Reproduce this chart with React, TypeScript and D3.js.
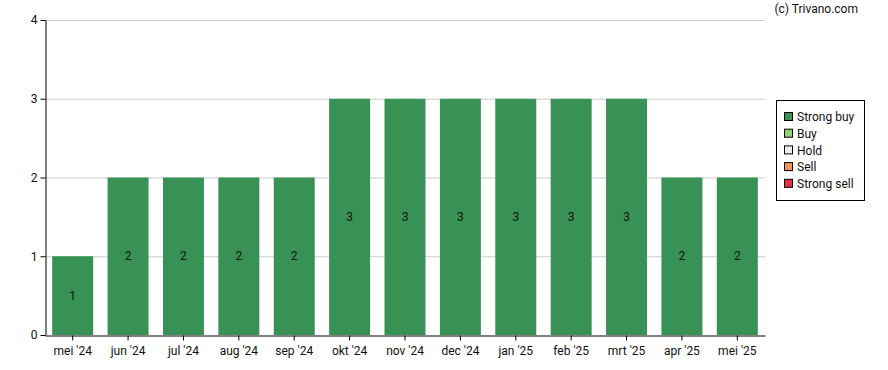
import React, { useEffect, useRef } from 'react'
import * as d3 from 'd3'

const months = ["mei '24", "jun '24", "jul '24", "aug '24", "sep '24", "okt '24", "nov '24", "dec '24", "jan '25", "feb '25", "mrt '25", "apr '25", "mei '25"]
const strongBuy = [1, 2, 2, 2, 2, 3, 3, 3, 3, 3, 3, 2, 2]
const yTicks = [0, 1, 2, 3, 4]
const legendLabels = ['Strong buy', 'Buy', 'Hold', 'Sell', 'Strong sell']
const legendColors = ['#389155', '#93d46f', '#eeeeee', '#f79452', '#e8313f']

function App() {
  const ref = useRef(null)

  useEffect(() => {
    const width = 888, height = 370
    const margin = { top: 20, right: 123, bottom: 35, left: 45 }
    const font = 'Roboto, Arial, sans-serif'

    d3.select(ref.current).selectAll('*').remove()

    const svg = d3.select(ref.current)
      .append('svg')
      .attr('width', width)
      .attr('height', height)
      .style('position', 'absolute')
      .style('left', '0px')
      .style('top', '0px')
      .style('font-family', font)

    const x = d3.scaleBand()
      .domain(months)
      .range([margin.left, width - margin.right])
      .paddingInner(0.26)
      .paddingOuter(0.13)

    const y = d3.scaleLinear()
      .domain([0, 4])
      .range([height - margin.bottom, margin.top])

    // gridlines
    svg.append('g')
      .selectAll('line')
      .data(yTicks.slice(1))
      .enter()
      .append('line')
      .attr('x1', margin.left)
      .attr('x2', width - margin.right)
      .attr('y1', d => y(d) + 0.5)
      .attr('y2', d => y(d) + 0.5)
      .attr('stroke', '#cccccc')
      .attr('stroke-width', 1)

    // bars
    svg.append('g')
      .selectAll('rect')
      .data(strongBuy)
      .enter()
      .append('rect')
      .attr('x', (d, i) => x(months[i]))
      .attr('y', d => y(d))
      .attr('width', x.bandwidth())
      .attr('height', d => y(0) - y(d))
      .attr('fill', legendColors[0])

    svg.append('g')
      .selectAll('text')
      .data(strongBuy)
      .enter()
      .append('text')
      .attr('x', (d, i) => x(months[i]) + x.bandwidth() / 2)
      .attr('y', d => (y(d) + y(0)) / 2)
      .attr('dy', '0.35em')
      .attr('text-anchor', 'middle')
      .style('font-size', '12px')
      .attr('fill', '#111')
      .text(d => d)

    // axes
    const yAxis = svg.append('g')
      .attr('transform', 'translate(' + (margin.left + 0.5) + ',0)')
      .call(d3.axisLeft(y).tickValues(yTicks).tickSize(5).tickSizeOuter(0).tickFormat(d3.format('d')))
    yAxis.select('.domain').attr('stroke', '#000')
    yAxis.selectAll('text').style('font-size', '12px').style('font-family', font).attr('fill', '#111')

    const xAxis = svg.append('g')
      .attr('transform', 'translate(0,' + (y(0) + 0.5) + ')')
      .call(d3.axisBottom(x).tickSize(5).tickSizeOuter(0))
    xAxis.select('.domain').attr('stroke', '#000')
    xAxis.selectAll('text').style('font-size', '12px').style('font-family', font).attr('fill', '#111').attr('dy', '0.95em')

    // legend
    const legend = svg.append('g')
    legend.append('rect')
      .attr('x', 776.5)
      .attr('y', 100.5)
      .attr('width', 88)
      .attr('height', 100)
      .attr('fill', '#fff')
      .attr('stroke', '#000')
    legendLabels.forEach((lab, i) => {
      const ly = 117 + i * 16.7
      legend.append('rect')
        .attr('x', 784.5)
        .attr('y', ly - 4.5)
        .attr('width', 8)
        .attr('height', 8)
        .attr('fill', legendColors[i])
        .attr('stroke', '#000')
      legend.append('text')
        .attr('x', 797)
        .attr('y', ly)
        .attr('dy', '0.35em')
        .style('font-size', '12px')
        .attr('fill', '#111')
        .text(lab)
    })

    svg.append('text')
      .attr('x', 858)
      .attr('y', 13)
      .attr('text-anchor', 'end')
      .style('font-size', '12px')
      .attr('fill', '#111')
      .text('(c) Trivano.com')
  }, [])

  return <div ref={ref}></div>
}

export default App
